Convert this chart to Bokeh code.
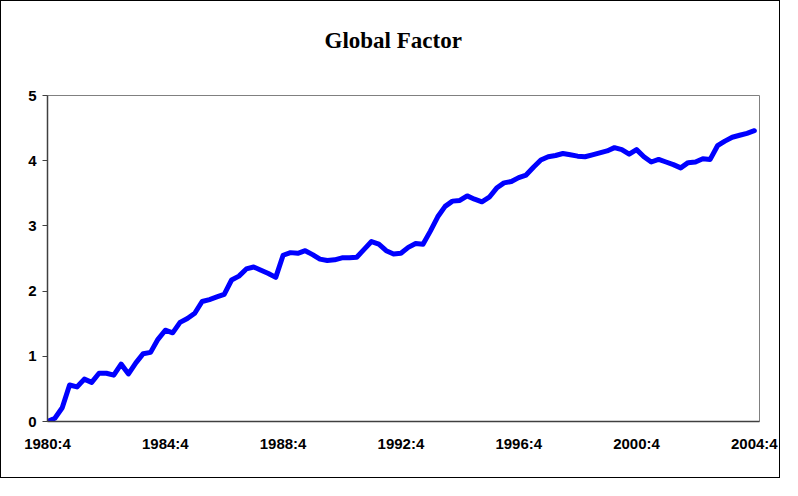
from bokeh.plotting import figure
from bokeh.models import FixedTicker, ColumnDataSource, Range1d, Title
from bokeh.embed import file_html
from bokeh.resources import INLINE

# Quarterly index, 1980:4 .. 2004:4 (97 quarters)
quarters = list(range(97))
global_factor = [
    0.00, 0.05, 0.21, 0.56, 0.53, 0.65, 0.60, 0.74, 0.74, 0.71,
    0.88, 0.73, 0.90, 1.04, 1.06, 1.26, 1.40, 1.36, 1.52, 1.58,
    1.66, 1.84, 1.87, 1.91, 1.95, 2.17, 2.23, 2.34, 2.37, 2.32,
    2.27, 2.21, 2.55, 2.59, 2.58, 2.62, 2.56, 2.49, 2.47, 2.48,
    2.51, 2.51, 2.52, 2.64, 2.76, 2.72, 2.62, 2.57, 2.58, 2.67,
    2.73, 2.72, 2.92, 3.14, 3.30, 3.38, 3.39, 3.46, 3.41, 3.37,
    3.44, 3.58, 3.66, 3.68, 3.74, 3.78, 3.90, 4.01, 4.06, 4.08,
    4.11, 4.09, 4.07, 4.06, 4.09, 4.12, 4.15, 4.20, 4.17, 4.10,
    4.17, 4.06, 3.98, 4.02, 3.98, 3.94, 3.89, 3.97, 3.98, 4.03,
    4.02, 4.23, 4.30, 4.36, 4.39, 4.42, 4.46,
]
x_tick_positions = [0, 16, 32, 48, 64, 80, 96]
x_tick_labels = ["1980:4", "1984:4", "1988:4", "1992:4", "1996:4", "2000:4", "2004:4"]
y_ticks = [0, 1, 2, 3, 4, 5]
chart_title = "Global Factor"

source = ColumnDataSource(data=dict(q=quarters, v=global_factor))

p = figure(width=780, height=478, output_backend="svg", toolbar_location=None,
           x_range=Range1d(0, 96.7), y_range=Range1d(0, 5),
           styles={"border": "1px solid black"})

p.min_border_left = 46
p.min_border_right = 22
p.min_border_top = 94
p.min_border_bottom = 58

# spacer between the title and the plot area
spacer = Title(text=" ", text_font_size="1px", standoff=30)
p.add_layout(spacer, "above")
main_title = Title(text=chart_title, text_font="Liberation Serif",
                   text_font_size="23px", text_font_style="bold",
                   text_color="black", align="left", offset=277, standoff=20)
p.add_layout(main_title, "above")

p.line(x="q", y="v", source=source, line_color="#0000FF", line_width=5,
       line_join="round", line_cap="round")

p.grid.visible = False
p.outline_line_color = "#808080"
p.outline_line_width = 1
p.background_fill_color = "white"
p.border_fill_color = "white"

p.xaxis.ticker = FixedTicker(ticks=x_tick_positions)
p.xaxis.major_label_overrides = {t: l for t, l in zip(x_tick_positions, x_tick_labels)}
p.xaxis.major_tick_out = 0
p.xaxis.major_tick_in = 0
p.xaxis.minor_tick_out = 0
p.xaxis.minor_tick_in = 0
p.xaxis.major_label_standoff = 13

p.yaxis.ticker = FixedTicker(ticks=y_ticks)
p.yaxis.major_tick_out = 5
p.yaxis.major_tick_in = 0
p.yaxis.minor_tick_out = 0
p.yaxis.minor_tick_in = 0
p.yaxis.major_label_standoff = 6

for ax in (p.xaxis, p.yaxis):
    ax.axis_line_color = "#404040"
    ax.axis_line_width = 1.5
    ax.major_tick_line_color = "#404040"
    ax.major_label_text_font = "Liberation Sans"
    ax.major_label_text_font_size = "15px"
    ax.major_label_text_font_style = "bold"
    ax.major_label_text_color = "black"

open("out.html", "w").write(file_html(p, INLINE))
